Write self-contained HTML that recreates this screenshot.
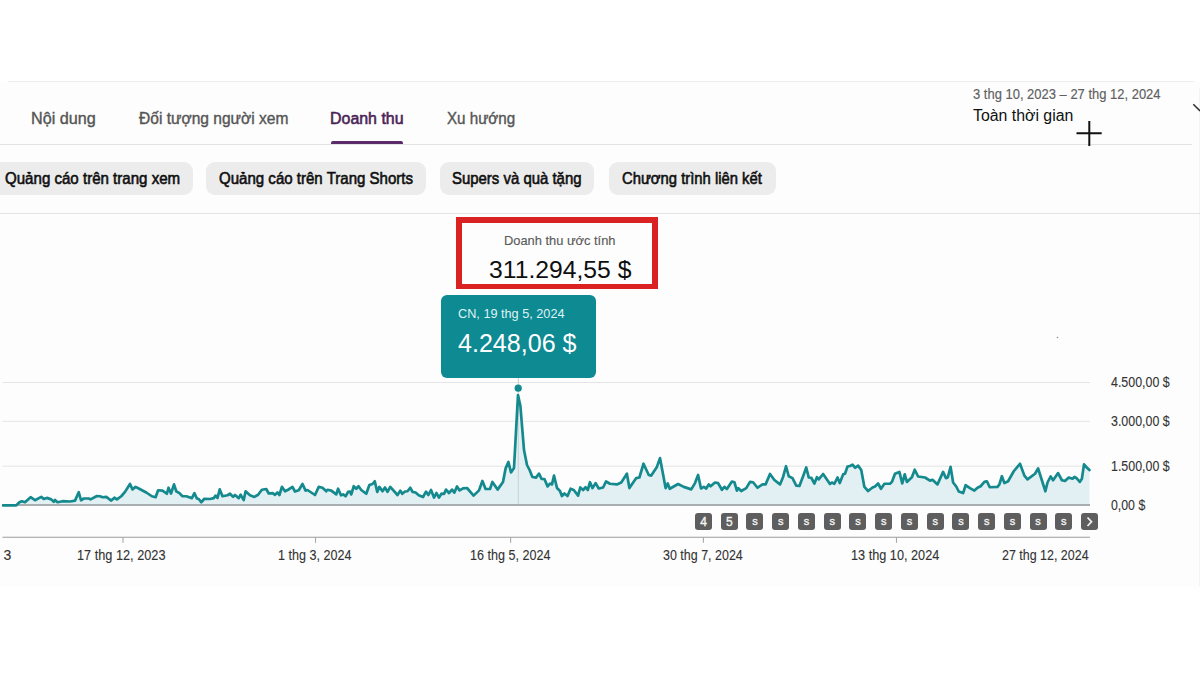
<!DOCTYPE html>
<html><head><meta charset="utf-8">
<style>
html,body{margin:0;padding:0;}
body{width:1200px;height:675px;overflow:hidden;position:relative;background:#ffffff;font-family:"Liberation Sans",sans-serif;}
.t{position:absolute;white-space:nowrap;line-height:1;transform-origin:0 0;}
.hl{position:absolute;height:1px;}
.chip{position:absolute;top:162px;height:32.8px;background:#ececec;border-radius:9px;}
.bd{position:absolute;top:512.7px;width:17px;height:17.3px;background:#5e5e5e;border-radius:3px;color:#f4f4f4;text-align:center;font-family:"Liberation Sans",sans-serif;}
.bs{font-size:11px;line-height:17.3px;font-weight:400;-webkit-text-stroke:0.35px #f4f4f4;}
.bn{font-size:12px;line-height:17.3px;font-weight:400;-webkit-text-stroke:0.35px #f4f4f4;}
</style></head><body>
<div style="position:absolute;left:0;top:82px;width:1200px;height:505px;background:#fdfdfd"></div>
<div class="hl" style="left:8px;top:81px;width:1186px;background:#eeeeee"></div>
<div class="hl" style="left:0;top:144px;width:1192px;background:#e3e3e3"></div>
<div style="position:absolute;left:331px;top:141px;width:72.4px;height:3px;background:#5b2a68;border-radius:2px 2px 0 0"></div>
<div class="hl" style="left:1198.5px;top:88px;width:1px;height:498px;background:#f3f3f3"></div>
<div class="chip" style="left:-10px;width:202.5px"></div>
<div class="chip" style="left:206.25px;width:220px"></div>
<div class="chip" style="left:439.6px;width:154.6px"></div>
<div class="chip" style="left:608.5px;width:167.1px"></div>
<div class="hl" style="left:0;top:213px;width:1200px;background:#e3e3e3"></div>
<div style="position:absolute;left:455.6px;top:217.4px;width:190.5px;height:60.4px;border-style:solid;border-color:#db2222;border-width:6.4px 6.6px 5.8px 6px;background:#fdfdfd"></div>
<svg width="1200" height="675" style="position:absolute;left:0;top:0" viewBox="0 0 1200 675">
 <line x1="2.5" y1="382.5" x2="1090" y2="382.5" stroke="#e4e4e4" stroke-width="1"/>
 <line x1="2.5" y1="421.3" x2="1090" y2="421.3" stroke="#e4e4e4" stroke-width="1"/>
 <line x1="2.5" y1="466.2" x2="1090" y2="466.2" stroke="#e4e4e4" stroke-width="1"/>
 <path d="M3.1,505.4 L16.25,505.4 L19.4,502.2 L21.9,501.2 L25,502.2 L30.6,497.2 L35,500.2 L41.25,496.9 L43.75,499 L46.9,497.9 L51.25,499.4 L53.75,501.9 L55,500 L57.5,502.2 L62.5,501.2 L70,501.5 L75,500.6 L78.75,492.25 L81,500.25 L83.75,498.5 L88.75,498.5 L90.6,499.4 L96.9,496 L100,496.25 L102.5,497.25 L106.25,496.9 L111.25,500.6 L114.4,497.75 L116.9,499.4 L121.25,496.25 L125,491.9 L130,484 L132.5,489.4 L135.6,486.9 L138.75,488.5 L146.25,492.5 L151.9,496.25 L155.6,497.25 L158.1,490.25 L162.5,490.6 L166.9,493.75 L168.5,487.75 L171,493.5 L174,484.4 L176.25,491.25 L179.4,493.1 L182.5,496.25 L186.25,496.25 L191.9,498.1 L194.4,493.1 L196.9,498.5 L198.75,499 L201.25,502.25 L204.4,498.75 L210,499 L213.75,498.1 L215.6,495.6 L217.5,497.9 L219.75,489.4 L222.5,496.25 L227.5,495.25 L230,493.75 L233.1,496.9 L235,495 L238.75,498.1 L240.6,494.75 L243.75,500 L245.6,491.25 L250,495.25 L254.4,496.9 L258.1,494.75 L261.9,489.75 L266.25,489 L268.75,493.5 L272.5,493.1 L275,494.75 L277.5,492.5 L279.4,495 L281.9,486.9 L285,491.25 L288.1,489.75 L292.5,486.9 L295,491.5 L298.75,490.25 L302.5,484 L305.6,490.6 L307.5,490 L315,495 L318.75,486.9 L322.5,487.75 L326.25,491.25 L327.5,489.75 L331.25,490.6 L336.25,494.4 L338.1,488.75 L341,495.25 L343.1,494.4 L345.6,496.25 L348.1,491.9 L350,491.5 L351.25,494.4 L353.75,486.25 L356.25,488.75 L358.5,486.25 L361.25,490 L366.25,493.75 L369.4,485 L372.5,484 L374.75,481.25 L377.25,491.9 L379.4,486.9 L382.5,491.25 L385,487.5 L387.5,491.9 L390.25,486.9 L397.5,495 L400.25,490.6 L402.25,493.75 L405,491.5 L407.5,491.25 L410.25,487.75 L412.5,491.9 L415.6,492.5 L418.75,495.25 L423,497 L426,491.6 L428.4,495 L431,490 L434,497.6 L436.4,493 L439,497.6 L441.6,493.6 L444,494 L446,489.6 L449,493 L452,489.6 L454.4,492.6 L457,486.4 L459.6,490.4 L463,488.4 L467,488 L473.6,495.6 L479,490.4 L482.4,481 L485.6,489 L490,489 L492.4,482 L497.6,489.6 L503,482 L505.6,468.4 L508.4,462 L511,472.4 L514,468 L518,395 L520.4,406 L524,450 L527,465 L529.6,470 L532.4,477 L536,477.6 L539,473.6 L541.6,479 L544.4,479 L547.6,486.4 L550,483.6 L552,484.4 L554,475.6 L557,488 L560,491 L561.9,496 L564.4,493.5 L567.5,496 L570.6,488.75 L573.75,490 L578.1,495.6 L580.25,487.5 L583.1,490 L585.6,487.25 L587.75,490 L590,482.25 L592.5,488.1 L595.6,483.1 L598.75,488.5 L603.1,487.5 L606,481.5 L610,483.75 L616.9,484.4 L621.25,482.5 L626.9,473.75 L629.4,488.1 L636.25,478.1 L639.4,477.5 L643.5,463.75 L648.75,475 L651.25,475.6 L656.9,466.9 L660,458.1 L665.6,488.1 L667.75,483.5 L669.75,488.75 L678.1,484 L683.75,486.9 L691.25,489.4 L695,483.1 L698.1,475 L701,488.5 L703.75,486.9 L706.25,488.5 L708.75,484.4 L710.6,486.25 L715,482.5 L718.1,483.1 L721.9,489.75 L724.4,486.9 L726.9,489 L731.9,481.5 L734.4,482.25 L736.9,490.6 L738.1,488.1 L741.25,491 L746.25,488.1 L750,481.9 L753.1,482.25 L757.5,487.75 L762.5,484.4 L765.6,484.4 L770,474 L774.4,480 L780,484.4 L783.1,476.9 L786,466.25 L788.75,476.25 L792.5,478.1 L796.25,485.6 L799.4,486 L803.1,476.25 L806.25,467.5 L808.75,477.5 L811.25,477.75 L814.4,483.5 L816.9,477.25 L818.75,479.4 L823.1,474 L830,484 L831.9,482.5 L834.4,483.75 L837.5,477.5 L839.75,483.1 L843.1,474.4 L845,473.75 L847.5,466.5 L850,466 L852.5,464.75 L855.25,467.75 L858.1,465.6 L861.25,470 L864.4,486.9 L868.1,491 L872.5,487.5 L875,486.5 L878.1,483.5 L881,488.75 L884.4,483.75 L890,483.75 L891.9,481.9 L895,473.75 L899.4,471.9 L902.25,483.5 L904.75,474.4 L906.9,481.9 L911.9,477.25 L914.75,469.75 L918.1,476.5 L925,477.5 L930,480.6 L932.5,479.75 L937.5,484.4 L943.1,471.9 L946,478.1 L947.75,477.5 L950.6,466.9 L953.1,482.5 L956.25,486.5 L958.75,491.5 L963.1,493.1 L965.6,485.25 L970,488.1 L974.4,490.6 L977.5,487.75 L980.6,486.25 L984.4,481.9 L986.9,481.25 L989.75,487.25 L997.5,486.9 L999.4,484.4 L1001.9,476.25 L1004.4,483.1 L1008.1,481.25 L1013.75,471.25 L1020,463.75 L1024.4,475.6 L1027.5,479.4 L1035,473.75 L1038.1,468.5 L1045.4,491.25 L1047.5,482.5 L1050.6,476.5 L1053.1,480.25 L1058.1,473.1 L1061.9,480.25 L1065,481 L1068.75,477.5 L1072.5,478.75 L1074.4,476.9 L1076.9,478.5 L1079.75,481.9 L1081.9,478.75 L1084,464.4 L1086.5,467.25 L1089.4,470 L1089.4,505 L3.1,505 Z" fill="#e2eff3"/>
 <line x1="518.3" y1="377" x2="518.3" y2="505" stroke="#c8d0d2" stroke-width="1"/>
 <line x1="2.5" y1="505" x2="1090" y2="505" stroke="#a8aeb0" stroke-width="1.8"/>
 <path d="M3.1,505.4 L16.25,505.4 L19.4,502.2 L21.9,501.2 L25,502.2 L30.6,497.2 L35,500.2 L41.25,496.9 L43.75,499 L46.9,497.9 L51.25,499.4 L53.75,501.9 L55,500 L57.5,502.2 L62.5,501.2 L70,501.5 L75,500.6 L78.75,492.25 L81,500.25 L83.75,498.5 L88.75,498.5 L90.6,499.4 L96.9,496 L100,496.25 L102.5,497.25 L106.25,496.9 L111.25,500.6 L114.4,497.75 L116.9,499.4 L121.25,496.25 L125,491.9 L130,484 L132.5,489.4 L135.6,486.9 L138.75,488.5 L146.25,492.5 L151.9,496.25 L155.6,497.25 L158.1,490.25 L162.5,490.6 L166.9,493.75 L168.5,487.75 L171,493.5 L174,484.4 L176.25,491.25 L179.4,493.1 L182.5,496.25 L186.25,496.25 L191.9,498.1 L194.4,493.1 L196.9,498.5 L198.75,499 L201.25,502.25 L204.4,498.75 L210,499 L213.75,498.1 L215.6,495.6 L217.5,497.9 L219.75,489.4 L222.5,496.25 L227.5,495.25 L230,493.75 L233.1,496.9 L235,495 L238.75,498.1 L240.6,494.75 L243.75,500 L245.6,491.25 L250,495.25 L254.4,496.9 L258.1,494.75 L261.9,489.75 L266.25,489 L268.75,493.5 L272.5,493.1 L275,494.75 L277.5,492.5 L279.4,495 L281.9,486.9 L285,491.25 L288.1,489.75 L292.5,486.9 L295,491.5 L298.75,490.25 L302.5,484 L305.6,490.6 L307.5,490 L315,495 L318.75,486.9 L322.5,487.75 L326.25,491.25 L327.5,489.75 L331.25,490.6 L336.25,494.4 L338.1,488.75 L341,495.25 L343.1,494.4 L345.6,496.25 L348.1,491.9 L350,491.5 L351.25,494.4 L353.75,486.25 L356.25,488.75 L358.5,486.25 L361.25,490 L366.25,493.75 L369.4,485 L372.5,484 L374.75,481.25 L377.25,491.9 L379.4,486.9 L382.5,491.25 L385,487.5 L387.5,491.9 L390.25,486.9 L397.5,495 L400.25,490.6 L402.25,493.75 L405,491.5 L407.5,491.25 L410.25,487.75 L412.5,491.9 L415.6,492.5 L418.75,495.25 L423,497 L426,491.6 L428.4,495 L431,490 L434,497.6 L436.4,493 L439,497.6 L441.6,493.6 L444,494 L446,489.6 L449,493 L452,489.6 L454.4,492.6 L457,486.4 L459.6,490.4 L463,488.4 L467,488 L473.6,495.6 L479,490.4 L482.4,481 L485.6,489 L490,489 L492.4,482 L497.6,489.6 L503,482 L505.6,468.4 L508.4,462 L511,472.4 L514,468 L518,395 L520.4,406 L524,450 L527,465 L529.6,470 L532.4,477 L536,477.6 L539,473.6 L541.6,479 L544.4,479 L547.6,486.4 L550,483.6 L552,484.4 L554,475.6 L557,488 L560,491 L561.9,496 L564.4,493.5 L567.5,496 L570.6,488.75 L573.75,490 L578.1,495.6 L580.25,487.5 L583.1,490 L585.6,487.25 L587.75,490 L590,482.25 L592.5,488.1 L595.6,483.1 L598.75,488.5 L603.1,487.5 L606,481.5 L610,483.75 L616.9,484.4 L621.25,482.5 L626.9,473.75 L629.4,488.1 L636.25,478.1 L639.4,477.5 L643.5,463.75 L648.75,475 L651.25,475.6 L656.9,466.9 L660,458.1 L665.6,488.1 L667.75,483.5 L669.75,488.75 L678.1,484 L683.75,486.9 L691.25,489.4 L695,483.1 L698.1,475 L701,488.5 L703.75,486.9 L706.25,488.5 L708.75,484.4 L710.6,486.25 L715,482.5 L718.1,483.1 L721.9,489.75 L724.4,486.9 L726.9,489 L731.9,481.5 L734.4,482.25 L736.9,490.6 L738.1,488.1 L741.25,491 L746.25,488.1 L750,481.9 L753.1,482.25 L757.5,487.75 L762.5,484.4 L765.6,484.4 L770,474 L774.4,480 L780,484.4 L783.1,476.9 L786,466.25 L788.75,476.25 L792.5,478.1 L796.25,485.6 L799.4,486 L803.1,476.25 L806.25,467.5 L808.75,477.5 L811.25,477.75 L814.4,483.5 L816.9,477.25 L818.75,479.4 L823.1,474 L830,484 L831.9,482.5 L834.4,483.75 L837.5,477.5 L839.75,483.1 L843.1,474.4 L845,473.75 L847.5,466.5 L850,466 L852.5,464.75 L855.25,467.75 L858.1,465.6 L861.25,470 L864.4,486.9 L868.1,491 L872.5,487.5 L875,486.5 L878.1,483.5 L881,488.75 L884.4,483.75 L890,483.75 L891.9,481.9 L895,473.75 L899.4,471.9 L902.25,483.5 L904.75,474.4 L906.9,481.9 L911.9,477.25 L914.75,469.75 L918.1,476.5 L925,477.5 L930,480.6 L932.5,479.75 L937.5,484.4 L943.1,471.9 L946,478.1 L947.75,477.5 L950.6,466.9 L953.1,482.5 L956.25,486.5 L958.75,491.5 L963.1,493.1 L965.6,485.25 L970,488.1 L974.4,490.6 L977.5,487.75 L980.6,486.25 L984.4,481.9 L986.9,481.25 L989.75,487.25 L997.5,486.9 L999.4,484.4 L1001.9,476.25 L1004.4,483.1 L1008.1,481.25 L1013.75,471.25 L1020,463.75 L1024.4,475.6 L1027.5,479.4 L1035,473.75 L1038.1,468.5 L1045.4,491.25 L1047.5,482.5 L1050.6,476.5 L1053.1,480.25 L1058.1,473.1 L1061.9,480.25 L1065,481 L1068.75,477.5 L1072.5,478.75 L1074.4,476.9 L1076.9,478.5 L1079.75,481.9 L1081.9,478.75 L1084,464.4 L1086.5,467.25 L1089.4,470" fill="none" stroke="#14898e" stroke-width="2.7" stroke-linejoin="round" stroke-linecap="round"/>
 <circle cx="518.2" cy="388.2" r="3.6" fill="#14898e"/>
 <line x1="2.5" y1="537.3" x2="1090" y2="537.3" stroke="#9c9c9c" stroke-width="1.1"/>
 <line x1="123" y1="537.3" x2="123" y2="542.8" stroke="#a8a8a8" stroke-width="1.1"/>
 <line x1="315.5" y1="537.3" x2="315.5" y2="542.8" stroke="#a8a8a8" stroke-width="1.1"/>
 <line x1="510.6" y1="537.3" x2="510.6" y2="542.8" stroke="#a8a8a8" stroke-width="1.1"/>
 <line x1="703.4" y1="537.3" x2="703.4" y2="542.8" stroke="#a8a8a8" stroke-width="1.1"/>
 <line x1="896.5" y1="537.3" x2="896.5" y2="542.8" stroke="#a8a8a8" stroke-width="1.1"/>
 <path d="M1076.5,133.3 L1101.7,133.3 M1089.3,121 L1089.3,146" stroke="#111" stroke-width="2" fill="none"/>
 <path d="M1193.3,104.2 L1200,110.9" stroke="#333" stroke-width="1.5" fill="none"/>
 <circle cx="1057.5" cy="337.5" r="0.8" fill="#888"/>
</svg>
<div style="position:absolute;left:440.5px;top:294.5px;width:155.6px;height:83px;background:#0e8a93;border-radius:6px"></div>
<div class="bd bn" style="left:695.00px"><span style="position:relative;top:1.5px">4</span></div><div class="bd bn" style="left:720.74px"><span style="position:relative;top:1.5px">5</span></div><div class="bd bs" style="left:746.48px"><span style="position:relative;top:0.5px">s</span></div><div class="bd bs" style="left:772.22px"><span style="position:relative;top:0.5px">s</span></div><div class="bd bs" style="left:797.96px"><span style="position:relative;top:0.5px">s</span></div><div class="bd bs" style="left:823.70px"><span style="position:relative;top:0.5px">s</span></div><div class="bd bs" style="left:849.44px"><span style="position:relative;top:0.5px">s</span></div><div class="bd bs" style="left:875.18px"><span style="position:relative;top:0.5px">s</span></div><div class="bd bs" style="left:900.92px"><span style="position:relative;top:0.5px">s</span></div><div class="bd bs" style="left:926.66px"><span style="position:relative;top:0.5px">s</span></div><div class="bd bs" style="left:952.40px"><span style="position:relative;top:0.5px">s</span></div><div class="bd bs" style="left:978.14px"><span style="position:relative;top:0.5px">s</span></div><div class="bd bs" style="left:1003.88px"><span style="position:relative;top:0.5px">s</span></div><div class="bd bs" style="left:1029.62px"><span style="position:relative;top:0.5px">s</span></div><div class="bd bs" style="left:1055.36px"><span style="position:relative;top:0.5px">s</span></div><div class="bd" style="left:1081.10px"><svg width="17" height="17.5" viewBox="0 0 17 17.5" style="position:absolute;left:0;top:0"><path d="M6.5,4.5 L10.5,8.75 L6.5,13" fill="none" stroke="#f2f2f2" stroke-width="1.8"/></svg></div>
<div class="t" id="tab1" style="left:31.00px;top:109.61px;font-size:17px;font-weight:400;color:#555555;transform:scaleX(0.9515);-webkit-text-stroke:0.4px #555555">Nội dung</div>
<div class="t" id="tab2" style="left:139.00px;top:109.61px;font-size:17px;font-weight:400;color:#555555;transform:scaleX(0.9157);-webkit-text-stroke:0.4px #555555">Đối tượng người xem</div>
<div class="t" id="tab3" style="left:330.00px;top:109.61px;font-size:17px;font-weight:400;color:#4a2456;transform:scaleX(0.9377);-webkit-text-stroke:0.6px #4a2456">Doanh thu</div>
<div class="t" id="tab4" style="left:447.00px;top:109.61px;font-size:17px;font-weight:400;color:#555555;transform:scaleX(0.8922);-webkit-text-stroke:0.4px #555555">Xu hướng</div>
<div class="t" id="date1" style="left:973.20px;top:87.05px;font-size:14px;font-weight:400;color:#606060;transform:scaleX(0.9266);-webkit-text-stroke:0.15px #606060">3 thg 10, 2023 – 27 thg 12, 2024</div>
<div class="t" id="date2" style="left:973.20px;top:108.16px;font-size:16px;font-weight:400;color:#0f0f0f;transform:scaleX(0.9911)">Toàn thời gian</div>
<div class="t" id="chip1" style="left:5.00px;top:170.03px;font-size:16.5px;font-weight:400;color:#0f0f0f;transform:scaleX(0.9136);-webkit-text-stroke:0.6px #0f0f0f">Quảng cáo trên trang xem</div>
<div class="t" id="chip2" style="left:219.00px;top:170.03px;font-size:16.5px;font-weight:400;color:#0f0f0f;transform:scaleX(0.9120);-webkit-text-stroke:0.6px #0f0f0f">Quảng cáo trên Trang Shorts</div>
<div class="t" id="chip3" style="left:452.00px;top:170.03px;font-size:16.5px;font-weight:400;color:#0f0f0f;transform:scaleX(0.9050);-webkit-text-stroke:0.6px #0f0f0f">Supers và quà tặng</div>
<div class="t" id="chip4" style="left:621.60px;top:170.03px;font-size:16.5px;font-weight:400;color:#0f0f0f;transform:scaleX(0.8975);-webkit-text-stroke:0.6px #0f0f0f">Chương trình liên kết</div>
<div class="t" id="kpil" style="left:504.40px;top:233.83px;font-size:13.2px;font-weight:400;color:#5a5a5a;transform:scaleX(0.9756);-webkit-text-stroke:0.15px #5a5a5a">Doanh thu ước tính</div>
<div class="t" id="kpiv" style="left:489.00px;top:257.95px;font-size:24.4px;font-weight:400;color:#0f0f0f;transform:scaleX(1.0129)">311.294,55 $</div>
<div class="t" id="ttd" style="left:458.40px;top:307.00px;font-size:13px;font-weight:400;color:#dff3f4;transform:scaleX(0.9762)">CN, 19 thg 5, 2024</div>
<div class="t" id="ttv" style="left:458.40px;top:330.84px;font-size:25px;font-weight:400;color:#ffffff;transform:scaleX(1.0034)">4.248,06 $</div>
<div class="t" id="y1" style="left:1110.80px;top:375.15px;font-size:14px;font-weight:400;color:#333333;transform:scaleX(0.8880);-webkit-text-stroke:0.1px #333333">4.500,00 $</div>
<div class="t" id="y2" style="left:1110.70px;top:414.15px;font-size:14px;font-weight:400;color:#333333;transform:scaleX(0.8880);-webkit-text-stroke:0.1px #333333">3.000,00 $</div>
<div class="t" id="y3" style="left:1110.70px;top:459.15px;font-size:14px;font-weight:400;color:#333333;transform:scaleX(0.8880);-webkit-text-stroke:0.1px #333333">1.500,00 $</div>
<div class="t" id="y4" style="left:1110.80px;top:498.15px;font-size:14px;font-weight:400;color:#333333;transform:scaleX(0.8795);-webkit-text-stroke:0.1px #333333">0,00 $</div>
<div class="t" id="x0" style="left:3.40px;top:548.15px;font-size:14px;font-weight:400;color:#333333;transform:scaleX(1.0000);-webkit-text-stroke:0.1px #333333">3</div>
<div class="t" id="x1" style="left:77.40px;top:548.15px;font-size:14px;font-weight:400;color:#333333;transform:scaleX(0.9093);-webkit-text-stroke:0.1px #333333">17 thg 12, 2023</div>
<div class="t" id="x2" style="left:278.00px;top:548.15px;font-size:14px;font-weight:400;color:#333333;transform:scaleX(0.8988);-webkit-text-stroke:0.1px #333333">1 thg 3, 2024</div>
<div class="t" id="x3" style="left:470.00px;top:548.15px;font-size:14px;font-weight:400;color:#333333;transform:scaleX(0.8989);-webkit-text-stroke:0.1px #333333">16 thg 5, 2024</div>
<div class="t" id="x4" style="left:663.00px;top:548.15px;font-size:14px;font-weight:400;color:#333333;transform:scaleX(0.8911);-webkit-text-stroke:0.1px #333333">30 thg 7, 2024</div>
<div class="t" id="x5" style="left:851.00px;top:548.15px;font-size:14px;font-weight:400;color:#333333;transform:scaleX(0.9073);-webkit-text-stroke:0.1px #333333">13 thg 10, 2024</div>
<div class="t" id="x6" style="left:1001.60px;top:548.15px;font-size:14px;font-weight:400;color:#333333;transform:scaleX(0.8898);-webkit-text-stroke:0.1px #333333">27 thg 12, 2024</div>
</body></html>
